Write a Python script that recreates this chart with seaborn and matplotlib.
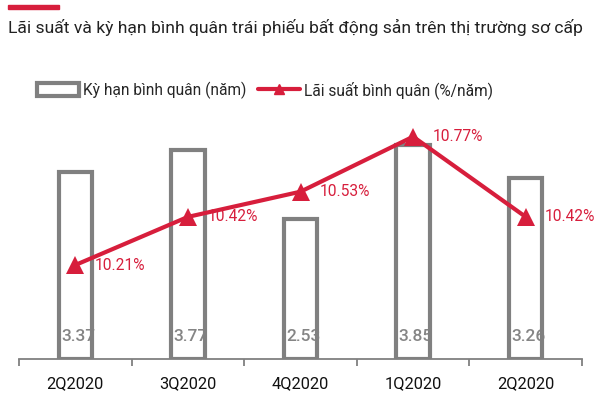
import matplotlib
matplotlib.use('Agg')
import matplotlib.pyplot as plt
import seaborn as sns
import pandas as pd
from matplotlib.patches import Rectangle
from matplotlib.lines import Line2D

# data
quarters = ['2Q2020', '3Q2020', '4Q2020', '1Q2020', '2Q2020']
ky_han = [3.37, 3.77, 2.53, 3.85, 3.26]          # years
lai_suat = [10.21, 10.42, 10.53, 10.77, 10.42]   # %/year

title = 'Lãi suất và kỳ hạn bình quân trái phiếu bất động sản trên thị trường sơ cấp'
bar_label = 'Kỳ hạn bình quân (năm)'
line_label = 'Lãi suất bình quân (%/năm)'

GREY = '#808080'
RED = '#d71e3c'

sns.set_theme(style='white')
plt.rcParams['font.family'] = ['Roboto', 'DejaVu Sans']

df = pd.DataFrame({'pos': range(len(quarters)), 'ky_han': ky_han, 'lai_suat': lai_suat})

fig = plt.figure(figsize=(6, 4), dpi=100)
ax = fig.add_axes([19 / 600, 41 / 400, 563 / 600, 259 / 400])

sns.barplot(data=df, x='pos', y='ky_han', ax=ax, width=0.295, errorbar=None)
for bar in ax.patches:
    bar.set_facecolor('none')
    bar.set_edgecolor(GREY)
    bar.set_linewidth(3)
    bar.set_zorder(2)

# value labels at the foot of each bar, clipped by the bar outline
for bar, v in zip(ax.patches, ky_han):
    t = ax.text(bar.get_x() + 0.02, 0.40, f'{v:.2f}', ha='left', va='center',
                color='#858585', fontsize=12.5, fontweight='medium', zorder=1)
    t.set_clip_path(bar)

ax.set_ylim(0, 4.667)

ax2 = ax.twinx()
sns.lineplot(data=df, x='pos', y='lai_suat', ax=ax2, color=RED, linewidth=3,
             marker='^', markersize=13, markeredgewidth=0)
for x, v in zip(df['pos'], lai_suat):
    ax2.annotate(f'{v:.2f}%', (x, v), xytext=(14, 0), textcoords='offset points',
                 ha='left', va='center', color=RED, fontsize=11.2)
ax2.set_ylim(9.80, 10.93)

for a in (ax, ax2):
    a.set_xlabel('')
    a.set_ylabel('')
    a.set_yticks([])
    for s in ('left', 'right', 'top'):
        a.spines[s].set_visible(False)
ax2.spines['bottom'].set_visible(False)
ax.spines['bottom'].set_color(GREY)
ax.spines['bottom'].set_linewidth(1.3)

ax.set_xticks(range(len(quarters)))
ax.set_xticklabels(quarters, fontsize=11.8, color='#111111')
ax.set_xticks([i - 0.5 for i in range(len(quarters) + 1)], minor=True)
ax.tick_params(axis='x', which='major', length=0, pad=12)
ax.tick_params(axis='x', which='minor', bottom=True, length=5, width=1.3,
               color=GREY, direction='out')
ax.set_xlim(-0.5, len(quarters) - 0.5)

handles = [Rectangle((0, 0), 1, 1, facecolor='white', edgecolor=GREY, linewidth=3),
           Line2D([], [], color=RED, linewidth=3, marker='^', markersize=7)]
fig.legend(handles, [bar_label, line_label], loc='center',
           bbox_to_anchor=(265 / 600, 1 - 90 / 400), ncol=2, frameon=False,
           fontsize=11.2, handlelength=2.7, handleheight=0.9, handletextpad=0.25,
           columnspacing=0.8, borderaxespad=0)

fig.text(8 / 600, 1 - 33 / 400, title, fontsize=12.6, color='#222222',
         ha='left', va='baseline')
fig.add_artist(Rectangle((8 / 600, 1 - 9 / 400), 51 / 600, 4 / 400,
                         transform=fig.transFigure, color=RED))

fig.savefig('out.png', dpi=100)
